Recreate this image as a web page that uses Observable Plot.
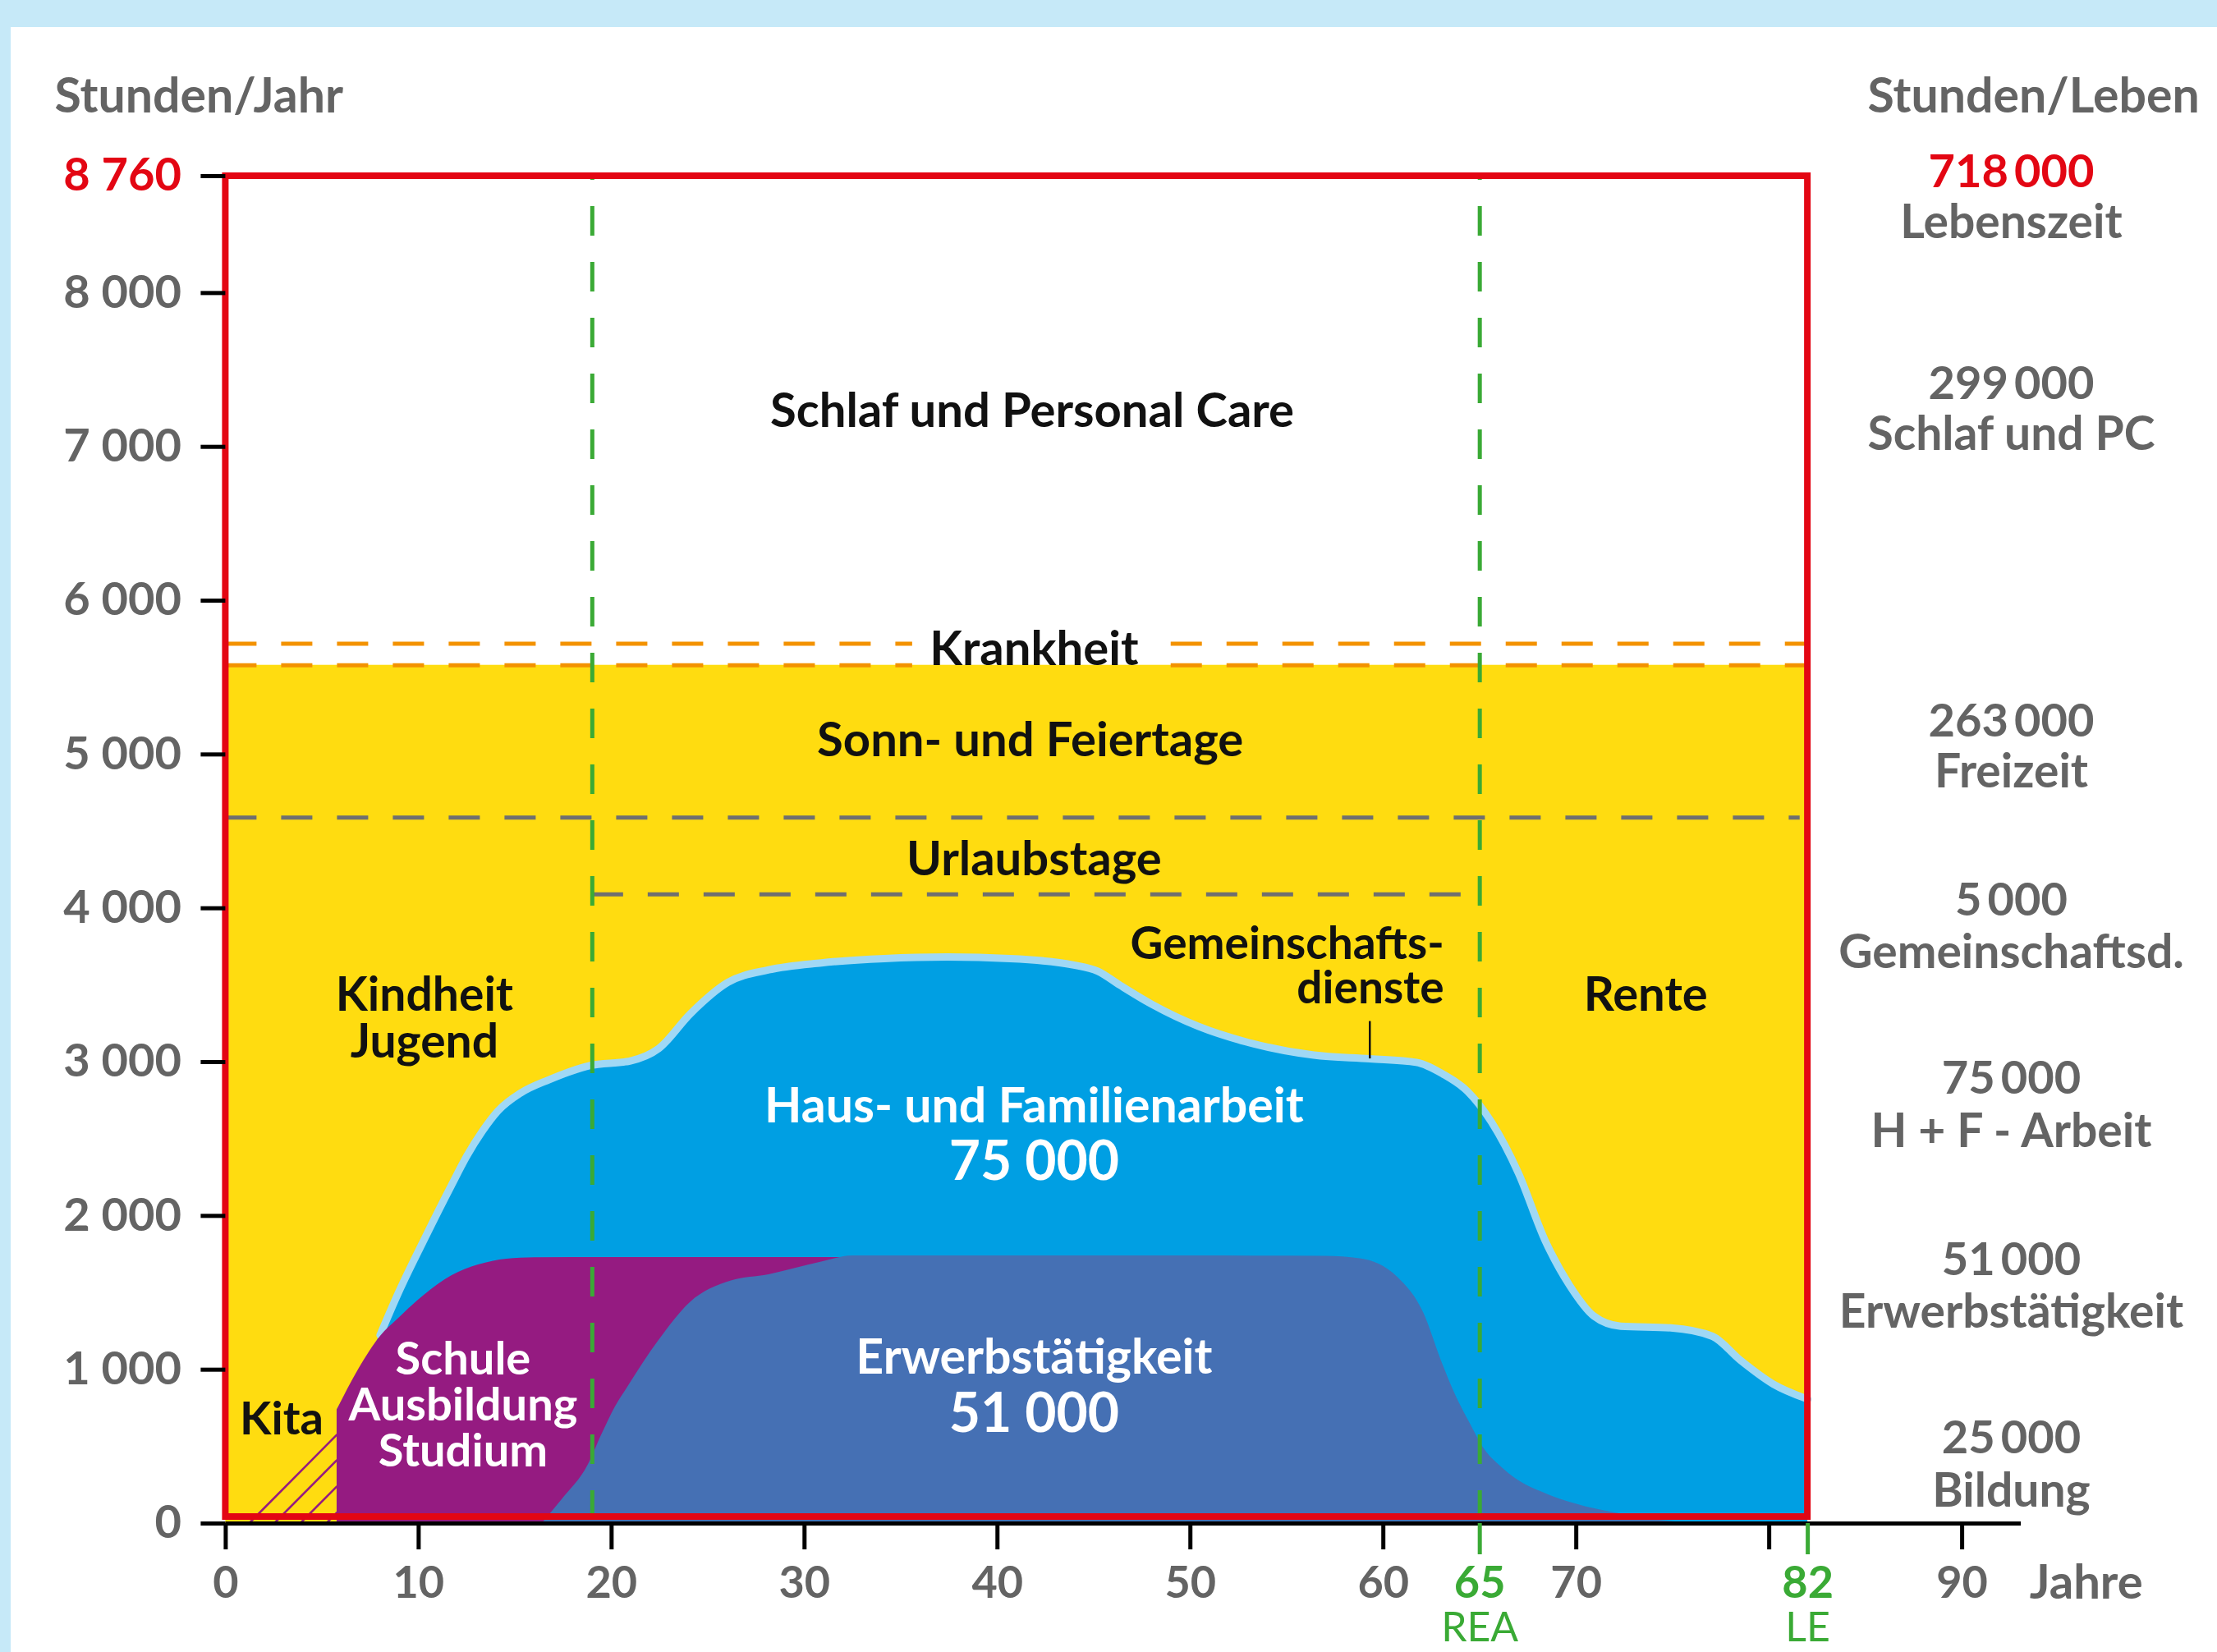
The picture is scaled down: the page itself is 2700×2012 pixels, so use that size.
<!DOCTYPE html>
<html><head><meta charset="utf-8">
<script src="https://cdn.jsdelivr.net/npm/d3@7"></script>
<script src="https://cdn.jsdelivr.net/npm/@observablehq/plot@0.6"></script>
<style>
html,body{margin:0;padding:0;background:#c6e9f8;width:2700px;height:2012px;overflow:hidden;}
#panel{position:absolute;left:13px;top:33px;width:2687px;height:1979px;background:#fff;}
#panel svg{overflow:visible;}
</style></head><body><div id="panel"></div>
<script>
// ---- data ----
const hoursPerYear = 8760;
const lifeExpectancy = 82;      // LE
const retirementAge = 65;       // REA
const educationEnd = 19;
const freizeitTop = 5580;       // top of yellow (free time)
const krankheitTop = 5720;      // upper orange line
const urlaubTop = 4590;         // grey dashed line (Urlaubstage)
const gemeinschaftTop = 4090;   // grey dashed line 19..65

// Haus- und Familienarbeit (upper boundary of blue area)
const hausAges = [5.77, 7.0, 8.0, 8.9, 10.3, 11.7, 12.5, 13.3, 14.1, 15.3, 16.75, 18.86, 20.98, 22.45, 24.08, 26.03, 28.15, 30.88, 34.14, 37.4, 40.65, 43.9, 45.2, 46.36, 48.0, 50.4, 52.9, 56.4, 59.3, 61.7, 63.1, 64.36, 65.6, 67.0, 68.4, 69.65, 70.9, 72.3, 74.9, 77.06, 78.5, 80.2, 82];
const hausTop  = [738, 1005, 1225, 1486, 1850, 2199, 2390, 2550, 2681, 2800, 2885, 2977, 3008, 3089, 3314, 3518, 3600, 3645, 3673, 3683, 3673, 3632, 3591, 3499, 3376, 3233, 3131, 3045, 3021, 2998, 2921, 2810, 2611, 2279, 1836, 1549, 1350, 1283, 1272, 1217, 1062, 907, 808];

// Schule / Ausbildung / Studium (purple)
const bildungAges = [5.77, 6.9, 8.03, 8.89, 10.3, 11.73, 13.1, 14.57, 16.0, 20, 25, 30, 33];
const bildungTop  = [738, 1005, 1219, 1325, 1486, 1612, 1681, 1719, 1728, 1730, 1730, 1730, 1730];

// Erwerbstätigkeit (slate blue)
const erwerbAges = [16.4, 17.4, 18.8, 19.5, 20.2, 20.8, 22.45, 24.07, 26.2, 28.15, 30.88, 32.5, 40, 50, 57, 58.8, 60.75, 62.1, 63.0, 63.8, 64.5, 65.2, 66.0, 67.0, 68.5, 69.8, 72.5, 75, 77];
const erwerbTop  = [0, 151, 384, 580, 760, 880, 1190, 1436, 1577, 1618, 1700, 1740, 1740, 1740, 1738, 1722, 1600, 1366, 1060, 820, 650, 490, 380, 280, 190, 133, 58, 12, 0];

// Kita (hatched)
const kitaStart = 1.2, kitaEnd = 5.77, kitaTop = 578;
const kitaHatchStarts = [1.2, 2.5, 3.85, 5.2];

// axes
const yTicks = [0, 1000, 2000, 3000, 4000, 5000, 6000, 7000, 8000];
const xTicks = [0, 10, 20, 30, 40, 50, 60, 70, 80, 90];
const xTicksGreen = [65, 82];
const xTickNotes = ["REA", "LE"];

// Stunden/Leben
const lebenValues = ["718\u2009000", "299\u2009000", "263\u2009000", "5\u2009000", "75\u2009000", "51\u2009000", "25\u2009000"];
const lebenNames  = ["Lebenszeit", "Schlaf und PC", "Freizeit", "Gemeinschaftsd.", "H + F - Arbeit", "Erwerbstätigkeit", "Bildung"];

// ---- layout of annotations (age, hours) ----
const lebenValuePos = [8782, 7406, 5215, 4047, 2888, 1708, 552];
const lebenNamePos  = [8455, 7079, 4884, 3707, 2546, 1372, 208];
const lebenX = 92.55;
const krankheitGap = [35.6, 49.0];

const blackLabels = [
  {text: "Schlaf und Personal Care", age: 41.8, h: 7228},
  {text: "Krankheit", age: 41.9, h: 5680},
  {text: "Sonn- und Feiertage", age: 41.7, h: 5086},
  {text: "Urlaubstage", age: 41.9, h: 4313},
  {text: "Rente", age: 73.6, h: 3432}
];
const whiteLabels = [
  {text: "Haus- und Familienarbeit", age: 41.9, h: 2706},
  {text: "Erwerbstätigkeit", age: 41.9, h: 1076}
];
const whiteNumbers = [
  {text: "75 000", age: 41.9, h: 2348},
  {text: "51 000", age: 41.9, h: 710}
];

// ---- colours ----
const C = {
  yellow: "#ffdc10", blue: "#009fe3", outline: "#a0d8f5", purple: "#951b81",
  slate: "#4570b4", red: "#e30613", orange: "#f39200", grey: "#6f6f6f",
  green: "#3aaa35", text: "#646464", black: "#111111"
};

const haus = hausAges.map((a, i) => ({age: a, h: hausTop[i]}));
const bildung = bildungAges.map((a, i) => ({age: a, h: bildungTop[i]}));
const erwerb = erwerbAges.map((a, i) => ({age: a, h: erwerbTop[i]}));
const fmt = d => d3.format(",")(d).replace(/,/g, " ");

const W = 2687, H = 1979;
const chart = Plot.plot({
  width: W, height: H,
  marginLeft: 261.4, marginRight: 239, marginTop: 181, marginBottom: 157,
  x: {domain: [0, 93.06]},
  y: {domain: [0, hoursPerYear]},
  style: {fontFamily: "Lato, 'Open Sans', sans-serif", background: "transparent", overflow: "visible"},
  marks: [
    // free time background
    Plot.rect([0], {x1: 0, x2: lifeExpectancy, y1: 0, y2: freizeitTop, fill: C.yellow}),
    // household & family work
    Plot.areaY(haus, {x: "age", y: "h", fill: C.blue, curve: "monotone-x"}),
    Plot.line(haus.filter(d => d.age >= 7.8), {x: "age", y: "h", stroke: C.outline, strokeWidth: 9, curve: "monotone-x"}),
    // education
    Plot.areaY(bildung, {x: "age", y: "h", fill: C.purple, curve: "monotone-x"}),
    // employment
    Plot.areaY(erwerb, {x: "age", y: "h", fill: C.slate, curve: "monotone-x"}),
    // Kita hatch
    Plot.link(kitaHatchStarts, {x1: d => d, y1: 0, x2: kitaEnd, y2: d => kitaTop * (kitaEnd - d) / (kitaEnd - kitaStart), stroke: C.purple, strokeWidth: 2.5}),
    // dashed lines
    Plot.ruleY([krankheitTop, freizeitTop], {x1: 0, x2: krankheitGap[0], stroke: C.orange, strokeWidth: 5, strokeDasharray: "38,30"}),
    Plot.ruleY([krankheitTop, freizeitTop], {x1: krankheitGap[1], x2: lifeExpectancy, stroke: C.orange, strokeWidth: 5, strokeDasharray: "38,30"}),
    Plot.ruleY([urlaubTop], {x1: 0, x2: lifeExpectancy - 0.4, stroke: C.grey, strokeWidth: 5, strokeDasharray: "38,30"}),
    Plot.ruleY([gemeinschaftTop], {x1: educationEnd, x2: retirementAge, stroke: C.grey, strokeWidth: 5, strokeDasharray: "38,30"}),
    Plot.ruleX([educationEnd, retirementAge], {y1: 0, y2: hoursPerYear, stroke: C.green, strokeWidth: 5, strokeDasharray: "36,32", strokeDashoffset: -4}),
    // leader line for Gemeinschaftsdienste
    Plot.ruleX([59.3], {y1: 3021, y2: 3264, stroke: C.black, strokeWidth: 2.5}),
    // red frame (one year of life = 8760 h, 0..82 years)
    Plot.rect([0], {x1: 0, x2: lifeExpectancy, y1: 0, y2: hoursPerYear, fill: "none", stroke: C.red, strokeWidth: 8, insetBottom: 8}),
    // axes
    Plot.ruleY([0], {x1: 0, x2: 93.06, stroke: "black", strokeWidth: 5}),
    Plot.axisY(yTicks, {anchor: "left", tickSize: 30, tickPadding: 24, tickFormat: fmt, fontSize: 56, fontWeight: "bold", fill: C.text, stroke: "black", strokeWidth: 5, label: null}),
    Plot.axisY([hoursPerYear], {anchor: "left", tickSize: 30, tickPadding: 24, tickFormat: fmt, fontSize: 56, fontWeight: "bold", fill: C.red, stroke: "black", strokeWidth: 5, label: null}),
    Plot.axisX(xTicks, {anchor: "bottom", tickSize: 32, tickPadding: 20, tickFormat: d => d === 80 ? "" : String(d), fontSize: 54, fontWeight: "bold", fill: C.text, stroke: "black", strokeWidth: 5, label: null}),
    Plot.axisX(xTicksGreen, {anchor: "bottom", tickSize: 38, tickPadding: 14, tickFormat: d => String(d), fontSize: 54, fontWeight: "bold", fill: C.green, stroke: C.green, strokeWidth: 5, label: null}),
    Plot.text(xTicksGreen, {x: d => d, y: -680, text: (d, i) => xTickNotes[i], fill: C.green, fontSize: 50, fontWeight: "normal"}),
    Plot.text(["Jahre"], {x: 93.5, y: -389, text: d => d, textAnchor: "start", fill: C.text, fontSize: 58, fontWeight: "bold"}),
    Plot.text(["Stunden/Jahr"], {x: -8.87, y: 9272, text: d => d, textAnchor: "start", fill: C.text, fontSize: 59, fontWeight: "bold"}),
    Plot.text(["Stunden/Leben"], {x: 85.1, y: 9272, text: d => d, textAnchor: "start", fill: C.text, fontSize: 59, fontWeight: "bold"}),
    // Stunden/Leben column
    Plot.text(lebenValues, {x: lebenX, y: (d, i) => lebenValuePos[i], text: d => d, fill: (d, i) => i === 0 ? C.red : C.text, fontSize: 56, fontWeight: "bold"}),
    Plot.text(lebenNames, {x: lebenX, y: (d, i) => lebenNamePos[i], text: d => d, fill: C.text, fontSize: 57, fontWeight: "bold"}),
    // chart labels
    Plot.text(blackLabels, {x: "age", y: "h", text: "text", fill: C.black, fontSize: 58, fontWeight: "bold"}),
    Plot.text(["Kindheit\nJugend"], {x: 10.3, y: 3280, text: d => d, fill: C.black, fontSize: 57, fontWeight: "bold", lineHeight: 1.0}),
    Plot.text(["Gemeinschafts-\ndienste"], {x: 63.15, y: 3620, text: d => d, textAnchor: "end", fill: C.black, fontSize: 55, fontWeight: "bold", lineHeight: 0.98}),
    Plot.text(["Kita"], {x: 2.9, y: 673, text: d => d, fill: C.black, fontSize: 56, fontWeight: "bold"}),
    Plot.text(whiteLabels, {x: "age", y: "h", text: "text", fill: "white", fontSize: 59, fontWeight: "bold"}),
    Plot.text(whiteNumbers, {x: "age", y: "h", text: "text", fill: "white", fontSize: 66, fontWeight: "bold"}),
    Plot.text(["Schule\nAusbildung\nStudium"], {x: 12.3, y: 768, text: d => d, fill: "white", fontSize: 56, fontWeight: "bold", lineHeight: 1.0})
  ]
});
document.getElementById("panel").appendChild(chart);
</script>
</body></html>
